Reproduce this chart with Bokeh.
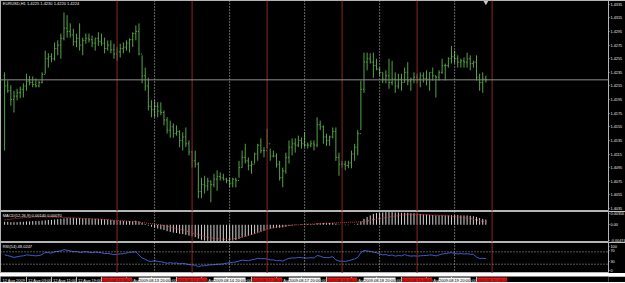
from bokeh.plotting import figure
from bokeh.models import Range1d, FixedTicker, Span, Label, ColumnDataSource, PrintfTickFormatter
from bokeh.layouts import column
from bokeh.embed import file_html
from bokeh.resources import INLINE
from bokeh.core.properties import value

# ---------------- data (EURUSD H1) ----------------
highs = [1.4235,1.4223,1.4216,1.4208,1.4211,1.4214,1.4219,1.4233,1.4230,1.4229,
         1.4226,1.4223,1.4235,1.4267,1.4263,1.4263,1.4279,1.4282,1.4292,1.4323,
         1.4319,1.4307,1.4299,1.4292,1.4307,1.4286,1.4292,1.4292,1.4289,1.4286,
         1.4294,1.4292,1.4286,1.4282,1.4282,1.4277,1.4272,1.4277,1.4279,1.4282,
         1.4285,1.4294,1.4304,1.4307,1.4260,1.4242,1.4227,1.4194,1.4194,1.4191,
         1.4191,1.4179,1.4169,1.4164,1.4160,1.4157,1.4150,1.4147,1.4154,1.4135,
         1.4120,1.4120,1.4103,1.4080,1.4083,1.4080,1.4076,1.4086,1.4091,1.4088,
         1.4086,1.4080,1.4080,1.4080,1.4080,1.4105,1.4120,1.4130,1.4110,1.4105,
         1.4117,1.4130,1.4138,1.4125,1.4152,1.4123,1.4120,1.4116,1.4105,1.4095,
         1.4117,1.4135,1.4138,1.4138,1.4142,1.4139,1.4147,1.4132,1.4135,1.4135,
         1.4169,1.4164,1.4157,1.4145,1.4142,1.4154,1.4154,1.4117,1.4105,1.4105,
         1.4105,1.4120,1.4130,1.4150,1.4223,1.4264,1.4264,1.4263,1.4264,1.4255,
         1.4242,1.4235,1.4238,1.4255,1.4252,1.4235,1.4233,1.4233,1.4242,1.4250,
         1.4227,1.4235,1.4233,1.4235,1.4235,1.4238,1.4235,1.4242,1.4230,1.4238,
         1.4255,1.4248,1.4257,1.4274,1.4267,1.4260,1.4255,1.4257,1.4264,1.4260,
         1.4252,1.4260,1.4233,1.4235,1.4230]
lows = [1.4120,1.4205,1.4186,1.4176,1.4194,1.4197,1.4198,1.4208,1.4216,1.4213,
        1.4213,1.4213,1.4219,1.4233,1.4242,1.4250,1.4252,1.4260,1.4255,1.4282,
        1.4286,1.4286,1.4274,1.4272,1.4267,1.4260,1.4277,1.4279,1.4272,1.4267,
        1.4274,1.4274,1.4263,1.4267,1.4263,1.4255,1.4252,1.4257,1.4263,1.4267,
        1.4264,1.4272,1.4282,1.4260,1.4219,1.4208,1.4179,1.4169,1.4169,1.4169,
        1.4172,1.4157,1.4145,1.4139,1.4139,1.4142,1.4125,1.4120,1.4125,1.4113,
        1.4095,1.4095,1.4050,1.4050,1.4057,1.4061,1.4044,1.4066,1.4061,1.4076,
        1.4076,1.4072,1.4066,1.4066,1.4066,1.4080,1.4095,1.4101,1.4091,1.4086,
        1.4101,1.4105,1.4116,1.4110,1.4123,1.4105,1.4110,1.4095,1.4076,1.4066,
        1.4086,1.4101,1.4113,1.4117,1.4125,1.4123,1.4125,1.4123,1.4125,1.4120,
        1.4125,1.4150,1.4130,1.4127,1.4127,1.4138,1.4105,1.4083,1.4095,1.4091,
        1.4094,1.4094,1.4105,1.4113,1.4150,1.4205,1.4238,1.4248,1.4227,1.4238,
        1.4230,1.4219,1.4219,1.4211,1.4216,1.4205,1.4211,1.4208,1.4220,1.4216,
        1.4208,1.4219,1.4219,1.4213,1.4220,1.4216,1.4208,1.4223,1.4198,1.4223,
        1.4233,1.4223,1.4242,1.4248,1.4248,1.4242,1.4242,1.4242,1.4242,1.4238,
        1.4242,1.4223,1.4208,1.4205,1.4220]
closes = [1.4215,1.4208,1.4195,1.4200,1.4205,1.4210,1.4215,1.4222,1.4220,1.4217,
          1.4215,1.4220,1.4232,1.4255,1.4258,1.4255,1.4270,1.4275,1.4285,1.4300,
          1.4295,1.4290,1.4280,1.4285,1.4275,1.4282,1.4285,1.4283,1.4278,1.4285,
          1.4280,1.4278,1.4270,1.4275,1.4268,1.4262,1.4265,1.4270,1.4272,1.4278,
          1.4283,1.4292,1.4295,1.4262,1.4230,1.4215,1.4185,1.4180,1.4185,1.4178,
          1.4176,1.4165,1.4150,1.4155,1.4145,1.4148,1.4135,1.4140,1.4130,1.4118,
          1.4105,1.4100,1.4060,1.4070,1.4068,1.4075,1.4070,1.4078,1.4082,1.4080,
          1.4078,1.4076,1.4072,1.4078,1.4076,1.4095,1.4110,1.4105,1.4098,1.4100,
          1.4115,1.4128,1.4120,1.4120,1.4130,1.4112,1.4112,1.4100,1.4080,1.4090,
          1.4110,1.4125,1.4130,1.4128,1.4135,1.4130,1.4128,1.4128,1.4130,1.4128,
          1.4158,1.4155,1.4140,1.4135,1.4140,1.4148,1.4110,1.4100,1.4100,1.4098,
          1.4102,1.4115,1.4125,1.4145,1.4210,1.4250,1.4255,1.4250,1.4245,1.4240,
          1.4235,1.4225,1.4230,1.4220,1.4225,1.4215,1.4225,1.4220,1.4235,1.4222,
          1.4225,1.4228,1.4225,1.4230,1.4226,1.4225,1.4235,1.4230,1.4228,1.4235,
          1.4245,1.4245,1.4255,1.4258,1.4255,1.4250,1.4252,1.4250,1.4255,1.4248,
          1.4250,1.4228,1.4220,1.4225,1.4224]
opens = [1.4230,1.4215,1.4208,1.4195,1.4200,1.4205,1.4210,1.4215,1.4222,1.4220,
         1.4217,1.4215,1.4220,1.4232,1.4255,1.4258,1.4255,1.4270,1.4275,1.4285,
         1.4300,1.4295,1.4290,1.4280,1.4285,1.4275,1.4282,1.4285,1.4283,1.4278,
         1.4285,1.4280,1.4278,1.4270,1.4275,1.4268,1.4262,1.4265,1.4270,1.4272,
         1.4278,1.4283,1.4292,1.4295,1.4262,1.4230,1.4215,1.4185,1.4180,1.4185,
         1.4178,1.4176,1.4165,1.4150,1.4155,1.4145,1.4148,1.4135,1.4140,1.4130,
         1.4118,1.4105,1.4100,1.4060,1.4070,1.4068,1.4075,1.4070,1.4078,1.4082,
         1.4080,1.4078,1.4076,1.4072,1.4078,1.4076,1.4095,1.4110,1.4105,1.4098,
         1.4100,1.4115,1.4128,1.4120,1.4120,1.4130,1.4112,1.4112,1.4100,1.4080,
         1.4090,1.4110,1.4125,1.4130,1.4128,1.4135,1.4130,1.4128,1.4128,1.4130,
         1.4128,1.4158,1.4155,1.4140,1.4135,1.4140,1.4148,1.4110,1.4100,1.4100,
         1.4098,1.4102,1.4115,1.4125,1.4145,1.4210,1.4250,1.4255,1.4250,1.4245,
         1.4240,1.4235,1.4225,1.4230,1.4220,1.4225,1.4215,1.4225,1.4220,1.4235,
         1.4222,1.4225,1.4228,1.4225,1.4230,1.4226,1.4225,1.4235,1.4230,1.4228,
         1.4235,1.4245,1.4245,1.4255,1.4258,1.4255,1.4250,1.4252,1.4250,1.4255,
         1.4248,1.4250,1.4228,1.4220,1.4225]
macd_main = [0.0008,0.0008,0.0007,0.0007,0.0007,0.0008,0.0008,0.0009,0.0009,0.0010,
             0.0010,0.0010,0.0011,0.0012,0.0013,0.0013,0.0014,0.0015,0.0016,0.0017,
             0.0018,0.0018,0.0018,0.0018,0.0018,0.0017,0.0017,0.0017,0.0016,0.0016,
             0.0016,0.0015,0.0015,0.0014,0.0013,0.0012,0.0011,0.0011,0.0010,0.0010,
             0.0010,0.0010,0.0011,0.0009,0.0005,0.0002,-0.0002,-0.0005,-0.0008,-0.0010,
             -0.0012,-0.0014,-0.0017,-0.0019,-0.0021,-0.0022,-0.0024,-0.0025,-0.0027,-0.0029,
             -0.0031,-0.0033,-0.0037,-0.0040,-0.0042,-0.0043,-0.0045,-0.0045,-0.0045,-0.0045,
             -0.0045,-0.0044,-0.0043,-0.0042,-0.0041,-0.0038,-0.0034,-0.0031,-0.0029,-0.0027,
             -0.0024,-0.0021,-0.0018,-0.0016,-0.0012,-0.0010,-0.0009,-0.0008,-0.0008,-0.0007,
             -0.0005,-0.0003,-0.0002,-0.0001,0.0000,0.0001,0.0001,0.0002,0.0002,0.0002,
             0.0004,0.0005,0.0005,0.0005,0.0005,0.0005,0.0003,0.0001,0.0000,-0.0001,
             -0.0001,0.0000,0.0001,0.0003,0.0009,0.0016,0.0021,0.0025,0.0029,0.0031,
             0.0032,0.0033,0.0034,0.0034,0.0034,0.0033,0.0033,0.0032,0.0032,0.0032,
             0.0031,0.0031,0.0030,0.0029,0.0028,0.0027,0.0027,0.0026,0.0025,0.0025,
             0.0025,0.0025,0.0025,0.0026,0.0026,0.0026,0.0025,0.0025,0.0025,0.0024,
             0.0023,0.0021,0.0018,0.0016,0.0014]
macd_signal = [0.0013,0.0014,0.0015,0.0016,0.0017,0.0018,0.0019,0.0020,0.0020,0.0021,
               0.0021,0.0021,0.0021,0.0021,0.0021,0.0021,0.0021,0.0020,0.0020,0.0020,
               0.0019,0.0019,0.0019,0.0018,0.0018,0.0017,0.0017,0.0017,0.0016,0.0016,
               0.0015,0.0015,0.0014,0.0014,0.0013,0.0012,0.0012,0.0011,0.0011,0.0010,
               0.0009,0.0009,0.0008,0.0007,0.0006,0.0005,0.0004,0.0003,0.0002,0.0001,
               0.0000,-0.0002,-0.0004,-0.0006,-0.0008,-0.0010,-0.0012,-0.0014,-0.0016,-0.0019,
               -0.0022,-0.0024,-0.0026,-0.0028,-0.0031,-0.0033,-0.0035,-0.0036,-0.0037,-0.0038,
               -0.0039,-0.0039,-0.0039,-0.0038,-0.0036,-0.0035,-0.0033,-0.0031,-0.0029,-0.0026,
               -0.0024,-0.0021,-0.0018,-0.0015,-0.0012,-0.0010,-0.0008,-0.0006,-0.0005,-0.0004,
               -0.0003,-0.0002,-0.0001,0.0000,0.0000,0.0001,0.0001,0.0002,0.0002,0.0002,
               0.0003,0.0003,0.0003,0.0004,0.0004,0.0005,0.0005,0.0005,0.0006,0.0006,
               0.0007,0.0007,0.0007,0.0008,0.0008,0.0009,0.0010,0.0012,0.0014,0.0015,
               0.0016,0.0018,0.0019,0.0021,0.0022,0.0023,0.0025,0.0026,0.0027,0.0028,
               0.0028,0.0028,0.0028,0.0027,0.0027,0.0027,0.0026,0.0026,0.0026,0.0025,
               0.0025,0.0024,0.0024,0.0023,0.0022,0.0021,0.0020,0.0019,0.0018,0.0017,
               0.0015,0.0013,0.0011,0.0009,0.0007]
rsi = [60,58,55,52,54,56,57,60,59,58,
       57,58,61,68,67,66,70,71,73,77,
       75,73,70,71,68,69,70,69,67,69,
       68,67,64,65,63,61,62,63,64,66,
       68,69,70,60,50,46,40,39,41,39,
       38,36,33,35,33,34,31,33,31,29,
       27,27,22,25,25,27,28,28,30,30,
       31,33,35,36,37,40,43,42,41,44,
       46,49,48,48,47,44,44,41,42,40,
       45,49,50,50,52,51,50,50,51,50,
       58,56,52,51,52,54,44,40,40,39,
       41,44,47,52,67,74,73,71,69,67,
       64,60,61,58,60,56,58,57,61,58,
       56,57,56,57,58,58,60,59,57,60,
       63,64,66,67,65,63,64,63,64,62,
       62,53,48,49,48]

price_ticks = [1.4335,1.4315,1.4295,1.4275,1.4255,1.4235,1.4215,1.4195,1.4175,1.4155,
               1.4135,1.4115,1.4095,1.4075,1.4055,1.4035]
last_price = 1.4224
macd_min, macd_max = -0.00474, 0.00356
red_line_bars = [36, 60, 84, 108, 132, 156]
red_line_labels = ["2009.08.13 08:00", "2009.08.14 08:00", "2009.08.17 08:00",
                   "2009.08.18 08:00", "2009.08.19 08:00", "2009.08.20 08:00"]
dot_line_bars = [48, 72, 96, 120, 144]
dot_line_labels = ["2009.08.13 20:00", "2009.08.14 20:00", "2009.08.17 20:00",
                   "2009.08.18 20:00", "2009.08.19 20:00"]
time_bars = [7, 15, 23, 31, 39, 47, 55, 63, 71, 79, 87, 95, 103, 111, 119, 127, 135, 143, 151]
time_labels = ["12 Aug 03:00", "12 Aug 11:00", "12 Aug 19:00", "13 Aug 03:00", "13 Aug 11:00",
               "13 Aug 19:00", "14 Aug 03:00", "14 Aug 11:00", "14 Aug 19:00", "17 Aug 03:00",
               "17 Aug 11:00", "17 Aug 19:00", "18 Aug 03:00", "18 Aug 11:00", "18 Aug 19:00",
               "19 Aug 03:00", "19 Aug 11:00", "19 Aug 19:00", "20 Aug 03:00"]
first_date_label = "12 Aug 2009"
shift_marker_bar = 154

# ---------------- styling ----------------
FONT = "Liberation Sans"
FS = "4px"
AFS = "3.8px"
BAR_GREEN = "#55a246"
VRED = "#8e2424"
FRAME = "#b4b4b4"
FW = 608

n = len(highs)
idx = list(range(n))
xr = Range1d(-1.312, 193.24)


def panel(h, yr):
    p = figure(frame_width=FW, frame_height=h, x_range=xr, y_range=yr,
               output_backend="svg", toolbar_location=None,
               x_axis_location=None, y_axis_location="right",
               min_border_left=0, min_border_right=17, min_border_top=0, min_border_bottom=0,
               background_fill_color="black", border_fill_color="black",
               outline_line_color=FRAME, outline_line_width=1)
    p.grid.visible = False
    ax = p.yaxis[0]
    ax.axis_line_color = None
    ax.major_tick_line_color = FRAME
    ax.major_tick_out = 1
    ax.major_tick_in = 0
    ax.minor_tick_line_color = None
    ax.major_label_text_font = FONT
    ax.major_label_text_font_size = AFS
    ax.major_label_text_color = "#e8e8e8"
    ax.major_label_standoff = 1
    for b in red_line_bars:
        p.add_layout(Span(location=b, dimension="height", line_color=VRED, line_width=1))
    for b in dot_line_bars:
        p.add_layout(Span(location=b, dimension="height", line_color="#c8c8c8",
                          line_width=1, line_dash="1 2"))
    return p


# main price panel
y_top = 1.43406
pm = panel(211, Range1d(1.40305, y_top))
pm.yaxis[0].ticker = FixedTicker(ticks=price_ticks)
pm.yaxis[0].formatter = PrintfTickFormatter(format="%.4f")
pm.add_layout(Span(location=last_price, dimension="width", line_color="#8c8c8c", line_width=1))
src = ColumnDataSource(dict(x=idx, xl=[i - 0.34 for i in idx], xr=[i + 0.34 for i in idx],
                            o=opens, h=highs, l=lows, c=closes))
pm.segment("x", "l", "x", "h", source=src, line_color=BAR_GREEN, line_width=1)
pm.segment("xl", "o", "x", "o", source=src, line_color=BAR_GREEN, line_width=1)
pm.segment("x", "c", "xr", "c", source=src, line_color=BAR_GREEN, line_width=1)
pm.scatter(x=[shift_marker_bar], y=[1.43380], marker="inverted_triangle", size=5,
           fill_color="#c8c8c8", line_color=None)
pm.add_layout(Label(x=-0.6, y=1.4336, text="EURUSD,H1  %.4f %.4f %.4f %.4f" % (opens[-1], highs[-1], lows[-1], closes[-1]),
                    text_font=FONT, text_font_size=FS, text_color="#f0f0f0", text_baseline="middle"))
pm.add_layout(Label(x=193.24, y=last_price, x_offset=1, text="%.4f" % last_price,
                    text_font=FONT, text_font_size=AFS, text_color="black", text_baseline="middle",
                    background_fill_color="white"))

# MACD panel
pmacd = panel(31, Range1d(macd_min, macd_max))
pmacd.yaxis[0].ticker = FixedTicker(ticks=[0.00294, 0, -0.00412])
pmacd.yaxis[0].formatter = PrintfTickFormatter(format="%.2f")
pmacd.yaxis[0].major_label_overrides = {0.00294: "%.5f" % macd_max, -0.00412: "%.5f" % macd_min}
pmacd.segment(x0=idx, y0=[0] * n, x1=idx, y1=macd_main, line_color="#d2d2d2", line_width=1)
pmacd.line(idx, macd_signal, line_color="#d23c3c", line_width=1, line_dash="1 1")
pmacd.add_layout(Label(x=-0.6, y=0.0026, text="MACD(12,26,9) %.5f %.5f" % (macd_main[-1], macd_signal[-1]),
                       text_font=FONT, text_font_size=FS, text_color="#f0f0f0", text_baseline="middle"))

# RSI panel
prsi = panel(31, Range1d(0, 100))
prsi.yaxis[0].ticker = FixedTicker(ticks=[87, 74, 39, 10])
prsi.yaxis[0].major_label_overrides = {87: "100", 74: "70", 39: "30", 10: "0"}
for lvl in (70, 30):
    prsi.add_layout(Span(location=lvl, dimension="width", line_color="#a8a8a8",
                         line_width=1, line_dash="1 2"))
prsi.line(idx, rsi, line_color="#3c5ccc", line_width=1)
prsi.add_layout(Label(x=-0.6, y=88, text="RSI(14) %.4f" % 48.0247,
                      text_font=FONT, text_font_size=FS, text_color="#f0f0f0", text_baseline="middle"))

# time strip
TY = 0.58
pt = figure(frame_width=FW, frame_height=9, x_range=xr, y_range=Range1d(0, 1),
            output_backend="svg", toolbar_location=None,
            x_axis_location=None, y_axis_location=None,
            min_border_left=0, min_border_right=17, min_border_top=0, min_border_bottom=0,
            background_fill_color="black", border_fill_color="black", outline_line_color=None)
pt.grid.visible = False
pt.segment(x0=time_bars, y0=[0.95] * len(time_bars), x1=time_bars, y1=[0.4] * len(time_bars),
           line_color="#c0c0c0", line_width=1)
pt.text(x=time_bars, y=[TY] * len(time_bars), text=time_labels, x_offset=1.5,
        text_font=value(FONT), text_font_size=FS, text_color="#e8e8e8",
        text_baseline="middle", text_align="left")
pt.text(x=[-1.312], y=[TY], text=[first_date_label], x_offset=2,
        text_font=value(FONT), text_font_size=FS, text_color="#e8e8e8",
        text_baseline="middle", text_align="left")
pt.rect(x=red_line_bars, y=[TY] * len(red_line_bars), width=9.6, height=0.62,
        fill_color="#e01818", line_color=None)
pt.text(x=red_line_bars, y=[TY] * len(red_line_bars), text=red_line_labels,
        text_font=value(FONT), text_font_size=FS, text_color="#5a0000",
        text_baseline="middle", text_align="center")
pt.rect(x=dot_line_bars, y=[TY] * len(dot_line_bars), width=10.2, height=0.62,
        fill_color="#f4f4f4", line_color=None)
pt.text(x=dot_line_bars, y=[TY] * len(dot_line_bars), text=dot_line_labels,
        text_font=value(FONT), text_font_size=FS, text_color="black",
        text_baseline="middle", text_align="center")

layout = column(pm, pmacd, prsi, pt, spacing=0)
open("out.html", "w").write(file_html(layout, INLINE))
